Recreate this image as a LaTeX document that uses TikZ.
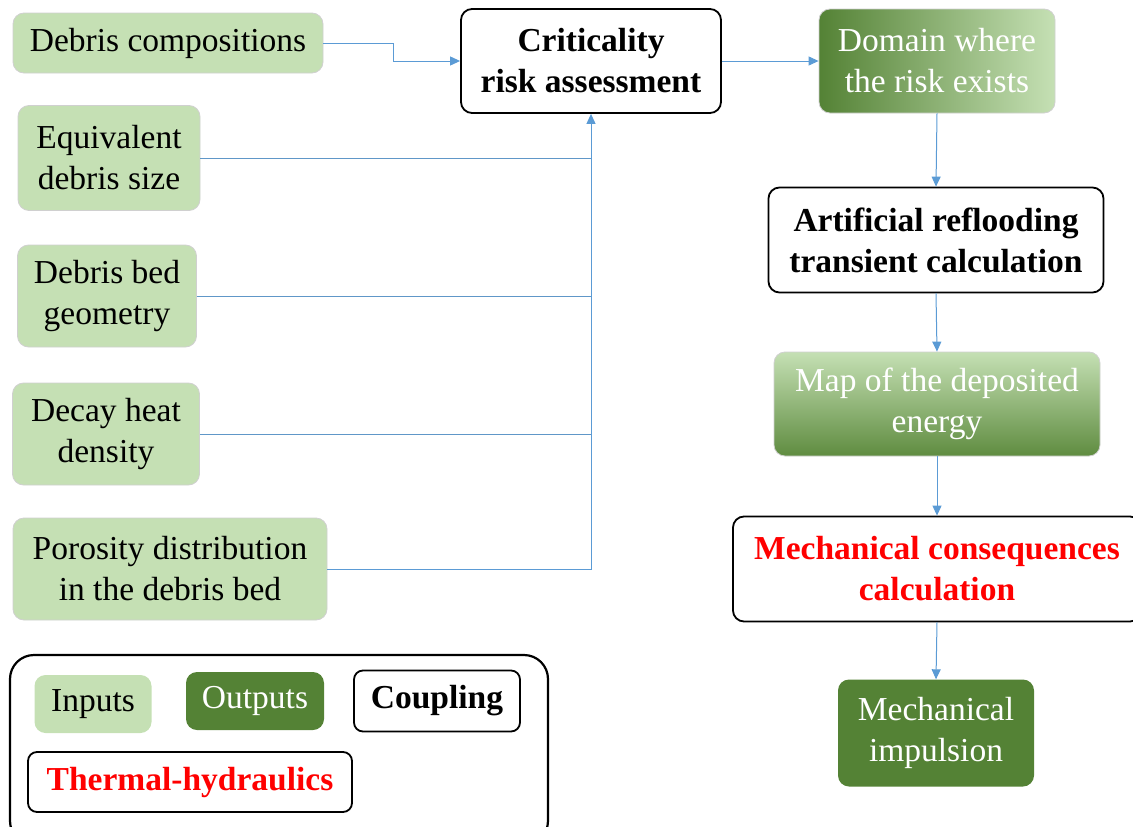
\documentclass[tikz,border=0pt]{standalone}
\usepackage{fontspec}
\setmainfont{Liberation Serif}
\usetikzlibrary{arrows.meta}
\definecolor{lgreen}{HTML}{C5E0B4}
\definecolor{dgreen}{HTML}{548235}
\definecolor{mgreen}{HTML}{5F8C40}
\definecolor{conncol}{HTML}{5B9BD5}
\definecolor{edgegray}{HTML}{D0D0D0}
\tikzset{
  base/.style={rectangle, rounded corners=11pt, align=center, inner sep=0pt,
    font=\fontsize{33.5}{41}\selectfont},
  inbox/.style={base, fill=lgreen, draw=edgegray, line width=0.8pt, text=black},
  outbox/.style={base, fill=dgreen, draw=none, text=white},
  cplbox/.style={base, draw=black, line width=1.8pt, fill=white, font=\fontsize{33.5}{41}\selectfont\bfseries},
  thbox/.style={cplbox, text=red},
  conn/.style={draw=conncol, line width=1pt, -{Triangle[length=10pt,width=9pt]}},
  bus/.style={draw=conncol!85!gray, line width=1pt},
}
\begin{document}
\begin{tikzpicture}[x=1pt,y=-1pt]
\useasboundingbox (0,0) rectangle (1133,827);
% inputs
\node[inbox, minimum width=310, minimum height=60] (dc) at (168,43) {Debris compositions};
\node[inbox, minimum width=182, minimum height=105] (eq) at (109,158) {Equivalent\\debris size};
\node[inbox, minimum width=179, minimum height=102] (geo) at (107,296) {Debris bed\\geometry};
\node[inbox, minimum width=187, minimum height=102] (dh) at (106,434) {Decay heat\\density};
\node[inbox, minimum width=314, minimum height=102] (por) at (170,569) {Porosity distribution\\in the debris bed};
% coupling / outputs
\node[cplbox, minimum width=260, minimum height=104] (crit) at (591,61) {Criticality\\risk assessment};
\node[base, minimum width=236, minimum height=104, left color=dgreen, right color=lgreen, draw=edgegray, line width=0.8pt, text=white] (dom) at (937,61) {Domain where\\the risk exists};
\node[cplbox, minimum width=335, minimum height=105] (art) at (936,240) {Artificial reflooding\\transient calculation};
\node[base, minimum width=326, minimum height=104, top color=lgreen, bottom color=mgreen, draw=edgegray, line width=0.8pt, text=white] (map) at (937,404) {Map of the deposited\\energy};
\node[thbox, minimum width=408, minimum height=105] (mech) at (937,569) {Mechanical consequences\\calculation};
\node[outbox, minimum width=196, minimum height=107] (imp) at (936,733) {Mechanical\\impulsion};
% connectors
\coordinate (k1) at (393,43);
\draw[conn] (dc.east) -- (k1) |- (crit.west);
\draw[bus] (eq.east) -- (eq.east -| crit.south);
\draw[bus] (geo.east) -- (geo.east -| crit.south);
\draw[bus] (dh.east) -- (dh.east -| crit.south);
\draw[conn] (por.east) -| (crit.south);
\draw[conn] (crit.east) -- (dom.west);
\draw[conn] (dom.south) -- (art.north);
\draw[conn] (art.south) -- (map.north);
\draw[conn] (map.south) -- (mech.north);
\draw[conn] (mech.south) -- (imp.north);
% legend
\node[rectangle, rounded corners=24pt, draw=black, line width=2.2pt, minimum width=538, minimum height=190] (leg) at (279,750) {};
\node[inbox, draw=none, minimum width=117, minimum height=58] (lin) at (93,704) {Inputs};
\node[outbox, minimum width=138, minimum height=58] (lout) at (255,701) {Outputs};
\node[cplbox, minimum width=166, minimum height=61, rounded corners=9pt] (lcpl) at (437,701) {Coupling};
\node[thbox, minimum width=324, minimum height=60, rounded corners=9pt] (lth) at (190,782) {Thermal-hydraulics};
\end{tikzpicture}
\end{document}
